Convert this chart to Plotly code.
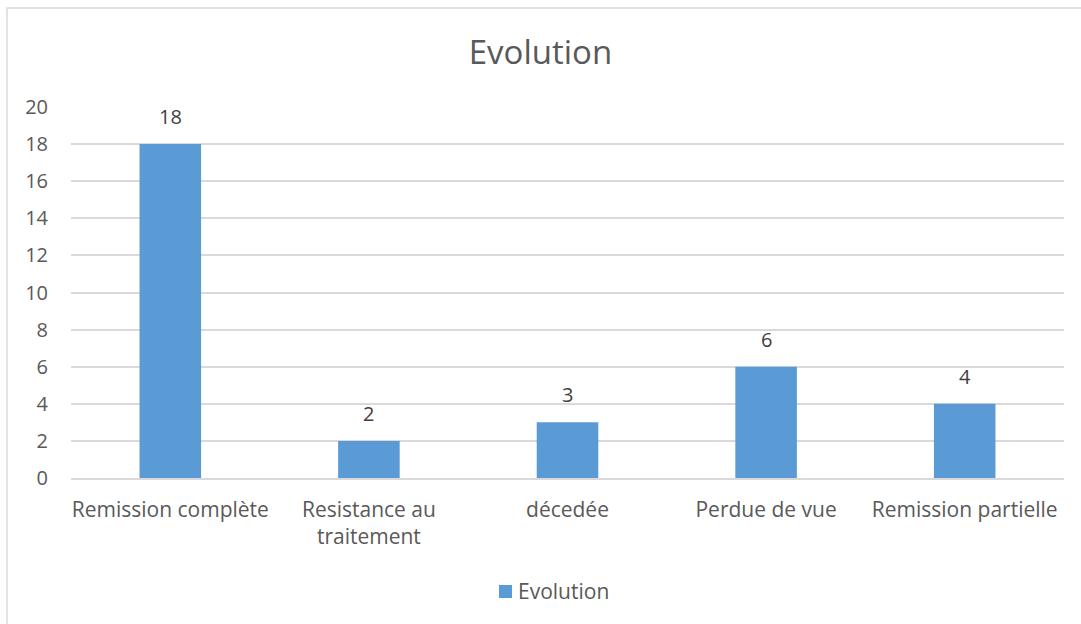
import plotly.graph_objects as go

categories = ["Remission complète", "Resistance au<br>traitement", "décedée", "Perdue de vue", "Remission partielle"]
values = [18, 2, 3, 6, 4]
series_name = "Evolution"
y_ticks = [0, 2, 4, 6, 8, 10, 12, 14, 16, 18, 20]

FONT = "Open Sans"
TEXT = "#595959"
BAR = "#5B9BD5"
GRID = "#D9D9D9"

# plot area in pixels
L, R, T, B = 71, 1064, 107, 478
W, H = R - L, B - T


def px_x(x):
    return (x - L) / W


def px_y(y):
    return (B - y) / H


fig = go.Figure(
    go.Bar(
        x=categories,
        y=values,
        name=series_name,
        marker=dict(color=BAR, line=dict(width=0)),
        showlegend=False,
    )
)

# value labels above each bar
for cat, v in zip(categories, values):
    fig.add_annotation(
        x=cat,
        y=v,
        text=str(v),
        showarrow=False,
        yanchor="bottom",
        yshift=12,
        font=dict(family=FONT, size=20, color="#404040"),
    )

# legend: swatch + label
fig.add_shape(
    type="rect",
    xref="paper",
    yref="paper",
    x0=px_x(499),
    x1=px_x(512),
    y0=px_y(598),
    y1=px_y(585),
    fillcolor=BAR,
    line=dict(width=0),
)
fig.add_annotation(
    xref="paper",
    yref="paper",
    x=px_x(516),
    y=px_y(591),
    xanchor="left",
    yanchor="middle",
    text=series_name,
    showarrow=False,
    font=dict(family=FONT, size=21, color=TEXT),
)

# chart frame
fig.add_shape(
    type="rect",
    xref="paper",
    yref="paper",
    x0=px_x(7),
    x1=px_x(1095),
    y0=px_y(640),
    y1=px_y(8),
    line=dict(color=GRID, width=1.5),
    fillcolor="rgba(0,0,0,0)",
    layer="below",
)

fig.update_layout(
    width=1081,
    height=624,
    margin=dict(l=L, r=1081 - R, t=T, b=624 - B),
    paper_bgcolor="white",
    plot_bgcolor="white",
    bargap=0.69,
    font=dict(family=FONT, color=TEXT, size=20),
    showlegend=False,
    title=dict(
        text="Evolution",
        x=0.5,
        xanchor="center",
        y=1 - 52 / 624,
        yanchor="middle",
        font=dict(family=FONT, size=33, color=TEXT),
    ),
)

fig.update_xaxes(
    showgrid=False,
    showline=True,
    linecolor=GRID,
    linewidth=1.5,
    ticks="",
    ticklabelstandoff=12,
    tickfont=dict(family=FONT, size=21, color=TEXT),
)
fig.update_yaxes(
    range=[0, 20],
    tickvals=y_ticks,
    showgrid=True,
    gridcolor=GRID,
    gridwidth=1.5,
    zeroline=False,
    showline=False,
    ticks="",
    ticklabelstandoff=22,
    tickfont=dict(family=FONT, size=20, color=TEXT),
)

fig.write_html("out.html")
